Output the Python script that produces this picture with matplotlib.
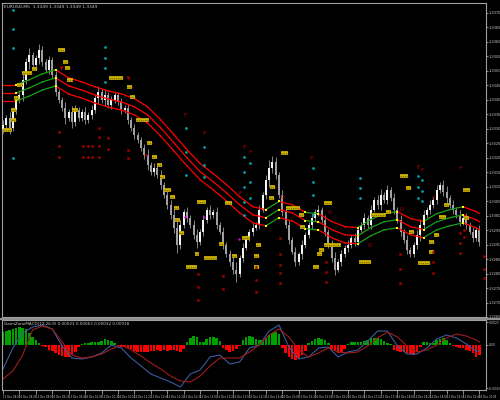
import numpy as np
import matplotlib.pyplot as plt
from matplotlib.lines import Line2D

# 5 minute bars, close prices
first_open = 1.33300
closes = [1.33314, 1.33338, 1.33303, 1.33366, 1.33400, 1.33417, 1.33469, 1.33531, 1.33555, 1.33521,
          1.33545, 1.33572, 1.33531, 1.33503, 1.33538, 1.33486, 1.33428, 1.33400, 1.33372, 1.33338,
          1.33359, 1.33324, 1.33366, 1.33338, 1.33359, 1.33331, 1.33348, 1.33366, 1.33407, 1.33428,
          1.33400, 1.33417, 1.33383, 1.33400, 1.33417, 1.33393, 1.33366, 1.33372, 1.33331, 1.33303,
          1.33279, 1.33262, 1.33234, 1.33210, 1.33176, 1.33152, 1.33166, 1.33141, 1.33107, 1.33072,
          1.33038, 1.33003, 1.32959, 1.32900, 1.32969, 1.33014, 1.32993, 1.32969, 1.32934, 1.32910,
          1.32945, 1.32986, 1.33021, 1.33003, 1.33014, 1.32969, 1.32945, 1.32900, 1.32866, 1.32841,
          1.32814, 1.32797, 1.32855, 1.32890, 1.32924, 1.32945, 1.32959, 1.32969, 1.33021, 1.33072,
          1.33124, 1.33166, 1.33186, 1.33141, 1.33072, 1.33014, 1.32969, 1.32917, 1.32876, 1.32841,
          1.32866, 1.32900, 1.32934, 1.32969, 1.32993, 1.33014, 1.33021, 1.32986, 1.32945, 1.32900,
          1.32855, 1.32814, 1.32841, 1.32866, 1.32890, 1.32900, 1.32924, 1.32910, 1.32952, 1.32969,
          1.32993, 1.32969, 1.33021, 1.33055, 1.33038, 1.33072, 1.33055, 1.33090, 1.33062, 1.33021,
          1.32986, 1.32945, 1.32917, 1.32883, 1.32866, 1.32900, 1.32934, 1.32969, 1.33003, 1.33021,
          1.33038, 1.33055, 1.33090, 1.33107, 1.33083, 1.33062, 1.33038, 1.33021, 1.33003, 1.32979,
          1.32993, 1.32969, 1.32945, 1.32924, 1.32952, 1.32910]
# wick length beyond the body, in pips
wicks = [1.5, 1, 2, 1, 1.5, 1, 2, 1.5, 2.5, 1, 1, 2, 1.5, 1, 1.5, 1, 1.5, 1, 1, 2, 1, 2, 1.5, 1, 1,
         1.5, 1, 1.5, 1, 2, 1, 2, 1, 1.5, 1, 1, 1.5, 1, 1.5, 1, 1.5, 1, 1, 1.5, 2, 1, 1.5, 1, 1.5, 1,
         1.5, 1.5, 2, 3, 1.5, 1, 1.5, 1, 1.5, 2, 1, 1.5, 1, 1.5, 1, 1.5, 1, 1.5, 1, 1.5, 1.5, 2.5, 1,
         1.5, 1, 1, 1.5, 1, 1.5, 1, 1.5, 2.5, 2, 1.5, 1, 1.5, 1, 1.5, 1, 1.5, 1, 1.5, 1, 1, 1.5, 1,
         1.5, 1, 1.5, 1, 1.5, 2, 1, 1.5, 1, 1.5, 1, 1.5, 1, 1, 1.5, 1, 1.5, 1, 1.5, 2, 1, 1.5, 1,
         1.5, 1, 1.5, 1, 1.5, 1, 1, 1.5, 2, 1.5, 1, 1.5, 1, 1.5, 1, 1.5, 2, 1, 1.5, 1, 1.5, 1, 1.5,
         1, 1.5, 1, 1.5]

# moving average bands (middle line, every 4th bar)
ma_bars = [0, 4, 8, 12, 16, 20, 24, 28, 32, 36, 40, 44, 48, 52, 56, 60, 64, 68, 72, 76, 80, 84,
           88, 92, 96, 100, 104, 108, 112, 116, 120, 124, 128, 132, 136, 140, 144, 145]
ma_mid = [1.33424, 1.33424, 1.33441, 1.33462, 1.33476, 1.33448, 1.33434, 1.33417, 1.33403, 1.33393,
          1.33376, 1.33348, 1.33303, 1.33252, 1.33200, 1.33152, 1.33117, 1.33079, 1.33038, 1.33003,
          1.32993, 1.33021, 1.33010, 1.32983, 1.32979, 1.32952, 1.32934, 1.32931, 1.32959, 1.32979,
          1.32986, 1.32962, 1.32952, 1.32979, 1.32993, 1.33003, 1.32986, 1.32979]
ma_trend = ['dn', 'up', 'up', 'up', 'dn', 'dn', 'dn', 'dn', 'dn', 'dn', 'dn', 'dn', 'dn', 'dn',
            'dn', 'dn', 'dn', 'dn', 'dn', 'dn', 'up', 'dn', 'dn', 'up', 'dn', 'dn', 'dn', 'up',
            'up', 'up', 'dn', 'dn', 'up', 'up', 'up', 'dn', 'dn']
band_gap = 0.00028

# signal boxes / dots drawn on the chart
box_b0 = [16.7, 18.2, 18.8, 5.8, 8.8, 4.2, 19.4, 3.3, 2.4, 2.4, 0.0, 20.9, 32.4, 37.6, 38.8, 40.6,
          43.9, 45.2, 47.0, 47.9, 49.1, 50.9, 52.1, 52.4, 53.6, 58.5, 55.8, 61.2, 59.1, 67.6, 65.8,
          69.7, 72.7, 77.0, 76.4, 76.4, 81.2, 80.9, 84.5, 86.1, 90.0, 90.3, 94.5, 97.6, 97.6, 96.1,
          95.5, 108.2, 120.9, 122.7, 112.1, 116.7, 123.6, 126.4, 129.7, 129.7, 131.2, 132.7, 134.2,
          140.0, 140.3]
box_b1 = [18.8, 19.7, 20.3, 8.8, 10.3, 6.1, 21.2, 4.8, 3.9, 3.9, 2.7, 22.7, 36.4, 39.4, 40.3, 44.5,
          45.5, 47.0, 48.5, 49.4, 51.2, 52.4, 53.6, 53.9, 55.2, 59.7, 59.1, 65.2, 61.8, 69.7, 67.3,
          71.2, 75.2, 78.5, 77.9, 77.9, 82.7, 82.4, 86.7, 90.3, 91.5, 91.8, 96.1, 100.0, 103.0, 97.6,
          97.0, 112.1, 123.3, 124.2, 116.7, 118.2, 125.2, 130.0, 131.2, 131.2, 132.7, 134.8, 135.8,
          142.1, 141.8]
box_p = [1.33572, 1.33531, 1.33510, 1.33493, 1.33507, 1.33452, 1.33469, 1.33407, 1.33366, 1.33331,
         1.33297, 1.33366, 1.33476, 1.33445, 1.33410, 1.33331, 1.33252, 1.33203, 1.33176, 1.33134,
         1.33090, 1.33066, 1.33028, 1.32986, 1.32941, 1.32869, 1.32824, 1.32855, 1.33048, 1.33045,
         1.32903, 1.32859, 1.32924, 1.32900, 1.32859, 1.32821, 1.33100, 1.33062, 1.33217, 1.33028,
         1.33003, 1.32962, 1.32824, 1.33045, 1.32900, 1.32883, 1.32866, 1.32841, 1.33138, 1.33097,
         1.33003, 1.33014, 1.32945, 1.32838, 1.32910, 1.32876, 1.32934, 1.32997, 1.33038, 1.33090,
         1.32993]
cyan_b = [3.0, 3.0, 3.0, 3.0, 30.9, 30.9, 30.9, 30.9, 55.8, 55.8, 55.8, 61.2, 61.2, 61.2, 73.3, 73.3,
          73.3, 73.3, 73.3, 75.2, 75.2, 75.2, 94.2, 94.2, 94.2, 94.2, 108.8, 108.8, 108.8, 126.4,
          126.4, 126.4, 127.6, 127.6, 127.6]
cyan_p = [1.33710, 1.33645, 1.33579, 1.33200, 1.33583, 1.33545, 1.33510, 1.33462, 1.33303, 1.33221,
          1.33141, 1.33238, 1.33176, 1.33134, 1.33203, 1.33152, 1.33100, 1.33048, 1.33003, 1.33183,
          1.33117, 1.33062, 1.33166, 1.33117, 1.33072, 1.33003, 1.33131, 1.33097, 1.33062, 1.33138,
          1.33100, 1.33062, 1.33124, 1.33086, 1.33052]
red_b = [17.0, 17.0, 17.0, 24.5, 25.8, 27.0, 24.5, 25.8, 27.0, 29.1, 29.1, 29.1, 29.1, 32.1, 32.1,
         37.9, 37.9, 43.6, 59.4, 59.4, 59.4, 67.0, 67.0, 77.0, 77.0, 77.0, 84.2, 84.2, 84.2, 84.2,
         84.2, 98.2, 98.2, 98.2, 120.9, 120.9, 120.9, 130.9, 130.9, 130.9, 139.1, 139.1, 139.1,
         140.3, 140.3, 146.4, 146.4, 146.4]
red_p = [1.33290, 1.33241, 1.33203, 1.33241, 1.33241, 1.33241, 1.33203, 1.33203, 1.33203, 1.33303,
         1.33272, 1.33241, 1.33203, 1.33269, 1.33231, 1.33228, 1.33200, 1.33210, 1.32797, 1.32752,
         1.32710, 1.32790, 1.32745, 1.32824, 1.32779, 1.32738, 1.32924, 1.32866, 1.32831, 1.32803,
         1.32769, 1.32841, 1.32807, 1.32772, 1.32866, 1.32817, 1.32769, 1.32876, 1.32841, 1.32803,
         1.32941, 1.32907, 1.32872, 1.32952, 1.32928, 1.32859, 1.32817, 1.32786]
f_b = [55.5, 61.2, 73.3, 75.2, 72.1, 93.9, 126.4, 127.6, 139.1, 130.9]
f_p = [1.33345, 1.33283, 1.33234, 1.33217, 1.33076, 1.33197, 1.33166, 1.33155, 1.33162, 1.33059]
arrow_b = [17.6, 37.9]
arrow_p = [1.33510, 1.33476]
o_b = [85.2, 99.4, 111.5, 121.2]
o_p = [1.33062, 1.33010, 1.32897, 1.33021]
mag_b = [55.5, 61.2, 71.8]
mag_p = [1.32997, 1.32997, 1.32921]

price_ticks = [1.3370, 1.3365, 1.3360, 1.3355, 1.3350, 1.3345, 1.3340, 1.3335, 1.3330, 1.3325, 1.3320,
               1.3315, 1.3310, 1.3305, 1.3300, 1.3295, 1.3290, 1.3285, 1.3280, 1.3275, 1.3270, 1.3265]
time_labels = ['13 Dec 08:00', '13 Dec 08:25', '13 Dec 08:50', '13 Dec 09:15', '13 Dec 09:40',
               '13 Dec 10:05', '13 Dec 10:30', '13 Dec 10:55', '13 Dec 11:20', '13 Dec 11:45',
               '13 Dec 12:10', '13 Dec 12:35', '13 Dec 13:00', '13 Dec 13:25', '13 Dec 13:50',
               '13 Dec 14:15', '13 Dec 14:40', '13 Dec 15:05', '13 Dec 15:30', '13 Dec 15:55',
               '13 Dec 16:20', '13 Dec 16:45', '13 Dec 17:10', '13 Dec 17:35', '13 Dec 18:00',
               '13 Dec 18:25', '13 Dec 18:50', '13 Dec 19:15', '13 Dec 19:40', '13 Dec 20:05']

# MACD panel
macd_hist = [0.0013, 0.0014, 0.0015, 0.0016, 0.0017, 0.0018, 0.0017, 0.0016, 0.0012, 0.0008,
             0.0005, 0.0002, -0.0001, -0.0002, -0.0005, -0.0006, -0.0008, -0.0010, -0.0011, -0.0012,
             -0.0012, -0.0010, -0.0007, -0.0002, 0.0001, 0.0002, 0.0002, 0.0003, 0.0003, 0.0003,
             0.0004, 0.0006, 0.0005, 0.0004, 0.0002, -0.0001, -0.0002, -0.0002, -0.0003, -0.0004,
             -0.0006, -0.0007, -0.0007, -0.0007, -0.0007, -0.0006, -0.0006, -0.0005, -0.0006, -0.0005,
             -0.0006, -0.0005, -0.0005, -0.0006, -0.0007, -0.0004, 0.0003, 0.0007, 0.0009, 0.0008,
             0.0003, 0.0003, 0.0006, 0.0008, 0.0008, 0.0007, 0.0004, -0.0003, -0.0005, -0.0007,
             -0.0006, -0.0004, -0.0001, 0.0005, 0.0008, 0.0009, 0.0008, 0.0006, 0.0005, 0.0005,
             0.0007, 0.0010, 0.0012, 0.0013, 0.0011, -0.0003, -0.0008, -0.0012, -0.0014, -0.0015,
             -0.0013, -0.0010, -0.0006, 0.0002, 0.0004, 0.0006, 0.0007, 0.0006, 0.0005, 0.0002,
             -0.0004, -0.0006, -0.0008, -0.0007, -0.0004, 0.0001, 0.0003, 0.0003, 0.0003, 0.0003,
             0.0004, 0.0005, 0.0007, 0.0007, 0.0007, 0.0006, 0.0004, 0.0002, 0.0001, -0.0005,
             -0.0006, -0.0007, -0.0007, -0.0008, -0.0009, -0.0010, -0.0007, -0.0002, 0.0003, 0.0003,
             0.0002, 0.0002, 0.0005, 0.0006, 0.0007, 0.0005, 0.0002, -0.0001, -0.0002, -0.0003,
             -0.0003, -0.0005, -0.0006, -0.0008, -0.0012, -0.0010]
macd_bars = list(range(0, 145, 3)) + [145]
macd_main = [-0.0024, -0.0003, 0.0012, 0.0018, 0.0020, 0.0016, -0.0001, -0.0013, -0.0014, -0.0012,
             -0.0008, 0.0000, -0.0003, -0.0013, -0.0021, -0.0029, -0.0033, -0.0037, -0.0042, -0.0029,
             -0.0025, -0.0012, -0.0010, -0.0019, -0.0017, -0.0003, 0.0000, 0.0014, 0.0020, -0.0002,
             -0.0014, -0.0012, -0.0003, -0.0002, -0.0012, -0.0007, -0.0005, 0.0004, 0.0014, 0.0014,
             -0.0001, -0.0009, -0.0009, -0.0003, 0.0006, 0.0010, 0.0007, 0.0001, -0.0006, -0.0006]
macd_signal = [-0.0034, -0.0026, -0.0010, 0.0015, 0.0019, 0.0016, 0.0003, -0.0010, -0.0013, -0.0012,
               -0.0009, -0.0004, 0.0000, -0.0005, -0.0011, -0.0018, -0.0024, -0.0031, -0.0036, -0.0037,
               -0.0031, -0.0021, -0.0013, -0.0013, -0.0013, -0.0007, 0.0000, 0.0010, 0.0016, 0.0008,
               -0.0005, -0.0012, -0.0008, -0.0003, -0.0007, -0.0008, -0.0007, -0.0001, 0.0007, 0.0013,
               0.0008, -0.0001, -0.0007, -0.0005, 0.0000, 0.0007, 0.0011, 0.0009, 0.0005, 0.0003]
macd_ticks = [0.0023, 0.0, -0.0043]
macd_tick_labels = ['0.0023', '0.00', '-0.0043']

fg = '#c8c8c8'
fig = plt.figure(figsize=(5, 4), dpi=100, facecolor='black')
ax = fig.add_axes([0.004, 0.2075, 0.968, 0.785], facecolor='black')
ax2 = fig.add_axes([0.004, 0.025, 0.968, 0.175], facecolor='black')

# candles
n = len(closes)
x = np.arange(n)
c = np.array(closes)
o = np.array([first_open] + closes[:-1])
w = np.array(wicks[:n]) * 0.0001
hi = np.maximum(o, c) + w
lo = np.minimum(o, c) - w
ax.vlines(x, lo, hi, color='#9a9a9a', lw=0.6, zorder=2)
body_col = ['#f4f4f4' if cc >= oo else '#a0a0a0' for oo, cc in zip(o, c)]
ax.bar(x, np.maximum(np.abs(c - o), 0.00003), bottom=np.minimum(o, c), width=0.6,
       color=body_col, lw=0, zorder=3)

# MA bands
mid = np.array(ma_mid)
for k in range(len(ma_bars) - 1):
    col = '#18a018' if ma_trend[k] == 'up' else '#ff0000'
    for off in (band_gap, 0, -band_gap):
        ax.plot(ma_bars[k:k + 2], mid[k:k + 2] + off, color=col, lw=0.9, zorder=4)
for k in range(1, len(ma_bars) - 1):
    if ma_trend[k] != ma_trend[k - 1]:
        for off in (band_gap, 0, -band_gap):
            ax.plot(ma_bars[k], mid[k] + off, 's', color='#ffff00', ms=1.6, mew=0, zorder=5)

# boxes and dots
ax.hlines(box_p, box_b0, box_b1, color='#d0b400', lw=2.7, zorder=6)
ax.hlines(box_p, box_b0, box_b1, color='#7a6200', lw=0.8, linestyles=(0, (1, 1)), zorder=7)
ax.plot(cyan_b, cyan_p, 'o', color='#00a0a8', ms=2.0, mew=0, zorder=6)
ax.plot(red_b, red_p, 'o', color='#9c0000', ms=2.0, mew=0, zorder=6)
ax.plot(mag_b, mag_p, 'o', color='#d000d0', ms=1.8, mew=0, zorder=6)
ax.plot(arrow_b, arrow_p, 'v', color='#a00000', ms=3, mew=0, zorder=6)
for b, p in zip(f_b, f_p):
    ax.text(b, p, 'F', color='#b00000', fontsize=4.5, ha='center', va='center', zorder=6)
for b, p in zip(o_b, o_p):
    ax.text(b, p, '0', color='#b00000', fontsize=4.5, ha='center', va='center', zorder=6)

ax.set_xlim(-0.3, 147)
ax.set_ylim(1.326517, 1.337345)
ax.set_xticks([])
ax.yaxis.tick_right()
ax.set_yticks(price_ticks)
ax.set_yticklabels([f'{v:.4f}' for v in price_ticks])
ax.tick_params(axis='y', colors=fg, labelcolor=fg, labelsize=2.6, length=1.5, width=0.5, pad=0.5)
for s in ax.spines.values():
    s.set_color('#a0a0a0')
    s.set_linewidth(0.8)
ax.text(0.004, 0.993, 'EURUSD,M5  1.3349 1.3349 1.3349 1.3349', transform=ax.transAxes,
        color=fg, fontsize=3.2, va='top', ha='left')

# MACD panel
hcol = ['#00a000' if v >= 0 else '#ff0000' for v in macd_hist]
ax2.bar(np.arange(len(macd_hist)), macd_hist, width=0.75, color=hcol, lw=0)
ax2.plot(macd_bars, macd_main, color='#3c5a9c', lw=0.8)
ax2.plot(macd_bars, macd_signal, color='#a01c1c', lw=0.8)
ax2.set_xlim(-0.3, 147)
ax2.set_ylim(-0.0045, 0.0025)
ax2.yaxis.tick_right()
ax2.set_yticks(macd_ticks)
ax2.set_yticklabels(macd_tick_labels)
ax2.tick_params(axis='y', colors=fg, labelcolor=fg, labelsize=2.2, length=1.5, width=0.5, pad=0.5)
ax2.set_xticks(np.arange(0, 146, 5))
ax2.set_xticklabels(time_labels, ha='left')
ax2.tick_params(axis='x', colors=fg, labelcolor=fg, labelsize=1.9, length=3, width=0.5, pad=0.5)
for s in ax2.spines.values():
    s.set_color('#a0a0a0')
    s.set_linewidth(0.8)
ax2.text(0.004, 0.97, 'GannZoneMACD(12,26,9) 0.00023 0.00063 0.00032 0.00018',
         transform=ax2.transAxes, color=fg, fontsize=3.0, va='top', ha='left')

# separator between the two windows
fig.add_artist(Line2D([0, 1], [0.2035, 0.2035], color='#909090', lw=1.6))

fig.savefig('out.png', dpi=100, facecolor='black')
